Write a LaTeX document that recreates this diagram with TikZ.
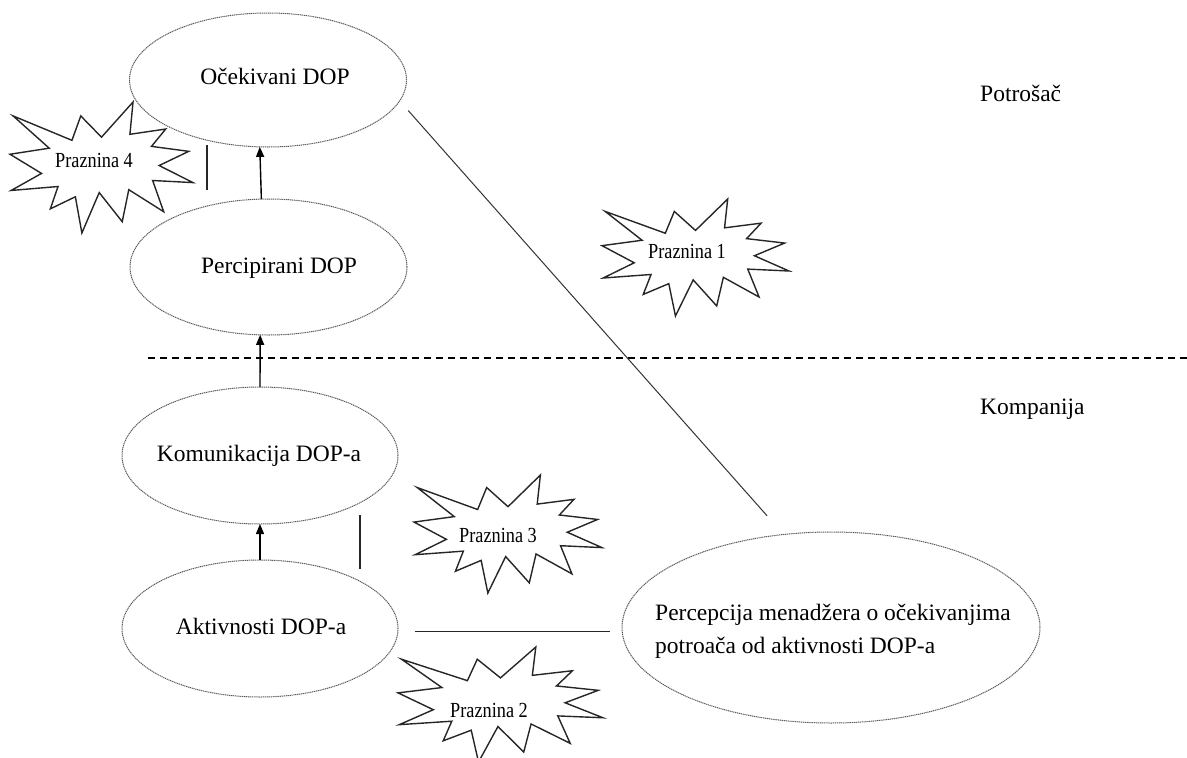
\documentclass[tikz,border=0pt]{standalone}
\usepackage{fontspec}
\setmainfont{Liberation Serif}
\usetikzlibrary{shapes.geometric,arrows.meta}
\newcommand{\drawburst}[4]{%
  \begin{scope}[shift={(#1,#2)},xscale=#3,yscale=#4]
    \draw[burstline] (0.5,0.2685) -- (0.6723,0) -- (0.6553,0.2465) -- (0.8509,0.2063)
      -- (0.7732,0.3387) -- (0.9767,0.3767) -- (0.8151,0.4850) -- (1,0.6153)
      -- (0.7795,0.5992) -- (0.8400,0.8377) -- (0.6491,0.6693) -- (0.6133,0.9138)
      -- (0.4876,0.6914) -- (0.3928,1) -- (0.3572,0.7235) -- (0.2205,0.8156)
      -- (0.2624,0.6452) -- (0.00625,0.6753) -- (0.1723,0.5451) -- (0,0.3988)
      -- (0.2142,0.3526) -- (0.0171,0.1063) -- (0.3385,0.2926) -- (0.3867,0.1063) -- cycle;
  \end{scope}}
\begin{document}
\begin{tikzpicture}[x=1pt,y=-1pt,
  oval/.style={ellipse,draw=black!65,line width=1pt,dash pattern=on 1.2pt off 0.7pt,
    inner sep=0pt,outer sep=0pt},
  lbl/.style={anchor=base,inner sep=0pt,font=\fontsize{23.5}{33}\selectfont},
  blbl/.style={anchor=base,inner sep=0pt,font=\fontsize{21.5}{26}\selectfont},
  burstline/.style={draw=black!85,fill=white,line width=1.4pt},
  arr/.style={-{Triangle[length=10pt,width=8pt]},line width=1.4pt},
  link/.style={line width=1.4pt,black!85},
  sep/.style={line width=1.2pt,dash pattern=on 7pt off 5pt}]
\useasboundingbox (0,0) rectangle (1187,758);

% ellipses
\node[oval,minimum width=277pt,minimum height=134pt] (e1) at (268,80) {};
\node[oval,minimum width=277pt,minimum height=136pt] (e2) at (268.5,267) {};
\node[oval,minimum width=276pt,minimum height=137pt] (e3) at (260,455.5) {};
\node[oval,minimum width=276pt,minimum height=137pt] (e4) at (260,628.5) {};
\node[oval,minimum width=418pt,minimum height=191pt] (e5) at (831,627.5) {};

% ellipse texts
\node[lbl] (t1) at (275,84) {Očekivani DOP};
\node[lbl] (t2) at (279,273) {Percipirani DOP};
\node[lbl] (t3) at (259,461) {Komunikacija DOP-a};
\node[lbl] (t4) at (261,634) {Aktivnosti DOP-a};
\node[anchor=west,inner sep=0pt,align=left,font=\fontsize{23.5}{33}\selectfont] (t5)
  at (655,631) {Percepcija menadžera o očekivanjima\\potroača od aktivnosti DOP-a};

% side labels
\node[lbl,anchor=base west] (pot) at (980,101) {Potrošač};
\node[lbl,anchor=base west] (kom) at (980,414) {Kompanija};

% divider
\coordinate (sepL) at (148,358);
\coordinate (sepR) at (1187,358);
\draw[sep] (sepL) -- (sepR);

% arrows
\draw[arr] (e2.96.7) -- (e1.263.3);
\draw[arr] (e3.north) -- (e2.263.3);
\draw[arr] (e4.north) -- (e3.south);

% gap lines
\draw[link,line width=1pt,black!80,shorten <=13pt,shorten >=25pt] (e1.-9) -- (e5.117.8);
\coordinate (h1) at ([yshift=-3pt]e4.east);
\draw[link,shorten <=17pt,shorten >=12pt] (h1) -- (h1 -| e5.west);
\coordinate (g4a) at (207,145);
\coordinate (g4b) at (207,190);
\draw[link] (g4a) -- (g4b);
\coordinate (g3a) at (360,515);
\coordinate (g3b) at (360,569);
\draw[link] (g3a) -- (g3b);

% starbursts
\drawburst{10}{102}{183}{131}
\drawburst{602}{199}{187}{117}
\drawburst{414}{475}{188}{118}
\drawburst{398}{647}{205}{115}

\node[blbl] (p4) at (94,167) {\scalebox{0.85}[1]{Praznina 4}};
\node[blbl] (p1) at (687,258) {\scalebox{0.85}[1]{Praznina 1}};
\node[blbl] (p3) at (498,542) {\scalebox{0.85}[1]{Praznina 3}};
\node[blbl] (p2) at (489,717) {\scalebox{0.85}[1]{Praznina 2}};
\end{tikzpicture}
\end{document}
